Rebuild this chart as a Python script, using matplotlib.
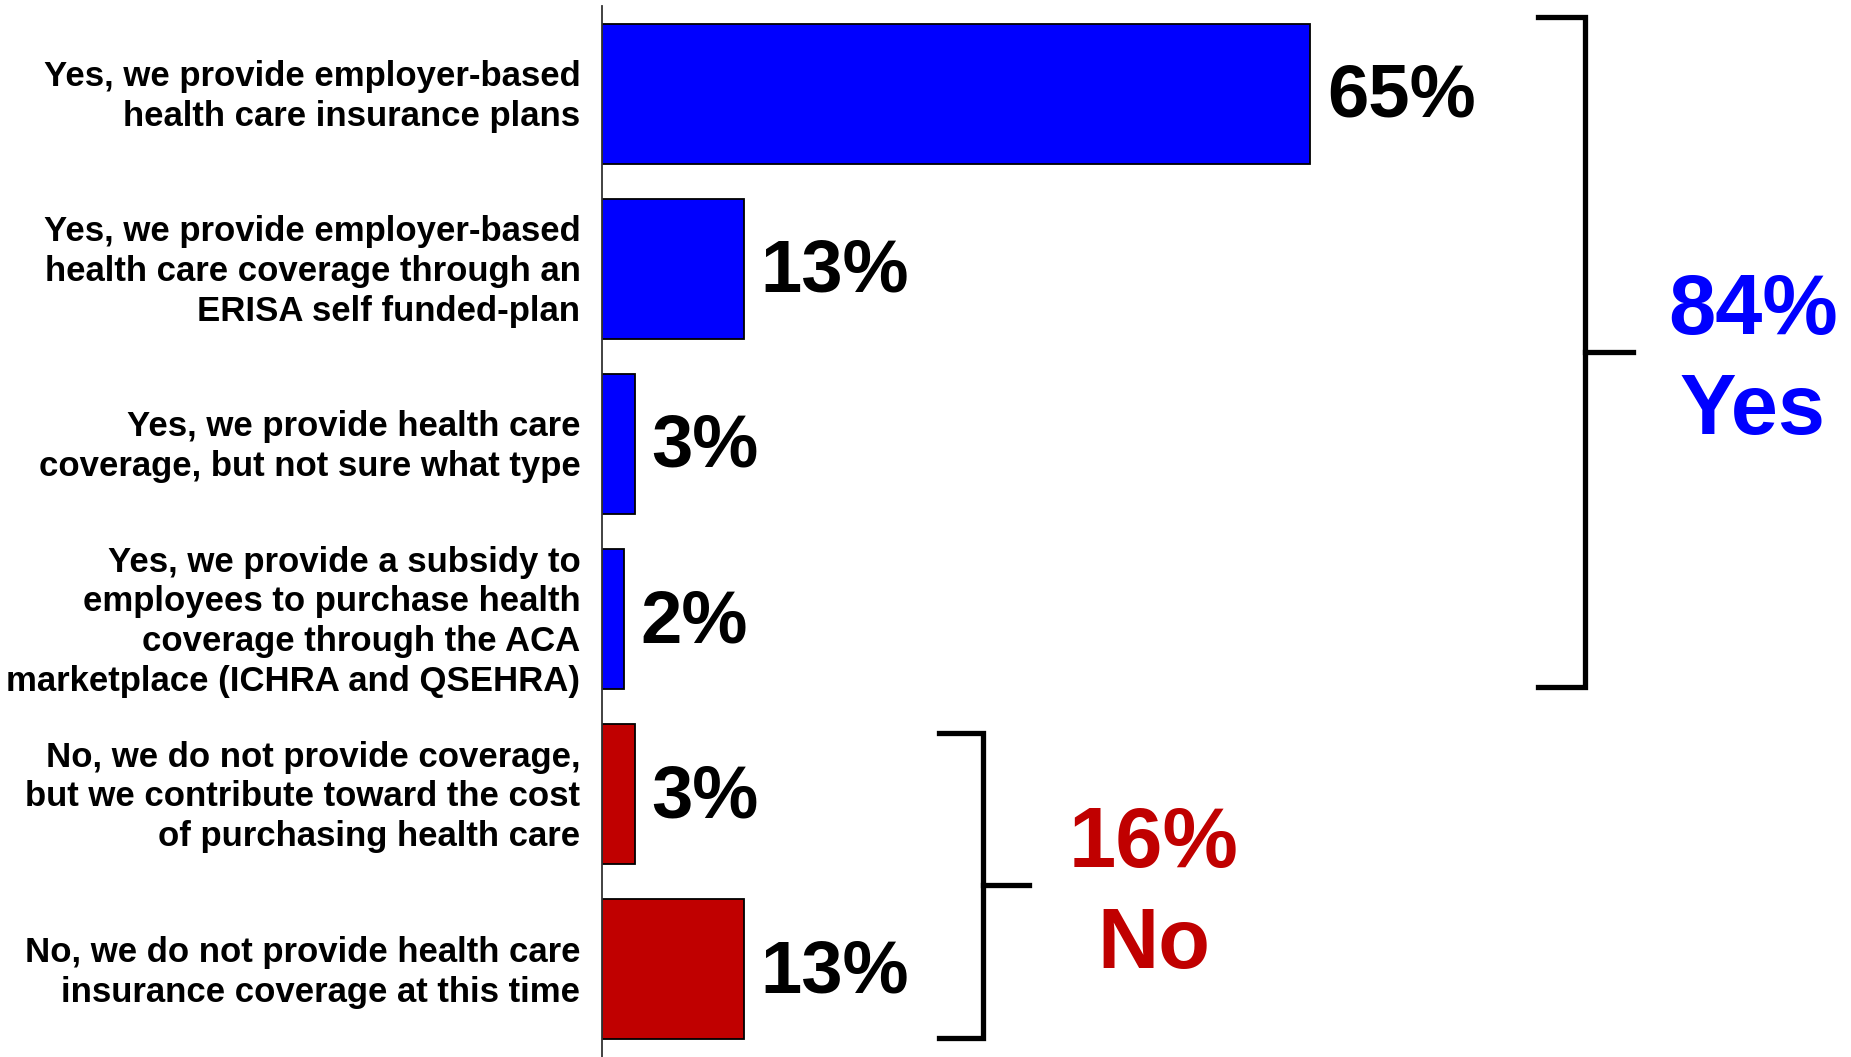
import matplotlib
matplotlib.use("Agg")
import matplotlib.pyplot as plt
import matplotlib.transforms as mtransforms

categories = [
    "Yes, we provide employer-based\nhealth care insurance plans",
    "Yes, we provide employer-based\nhealth care coverage through an\nERISA self funded-plan",
    "Yes, we provide health care\ncoverage, but not sure what type",
    "Yes, we provide a subsidy to\nemployees to purchase health\ncoverage through the ACA\nmarketplace (ICHRA and QSEHRA)",
    "No, we do not provide coverage,\nbut we contribute toward the cost\nof purchasing health care",
    "No, we do not provide health care\ninsurance coverage at this time",
]
values = [65, 13, 3, 2, 3, 13]
groups = ["Yes", "Yes", "Yes", "Yes", "No", "No"]
group_names = ["Yes", "No"]
group_totals = [84, 16]
group_colors = {"Yes": "#0000FF", "No": "#C00000"}

plt.rcParams['font.family'] = ['Liberation Sans', 'DejaVu Sans']

W, H = 1851, 1057
fig = plt.figure(figsize=(W / 100, H / 100), dpi=100)
ax_left = 602 / W
ax_top = 6 / H
ax = fig.add_axes([ax_left, 0, 1 - ax_left, 1 - ax_top])

ypos = list(range(len(categories)))
colors = [group_colors[g] for g in groups]
ax.barh(ypos, values, height=0.8, color=colors, edgecolor="black", linewidth=1.3)
ax.set_ylim(5.5, -0.5)
ax.set_xlim(0, 114.6)

for y, v in zip(ypos, values):
    ax.text(v + 1.5, y + 0.02, f"{v}%", ha="left", va="center",
            fontsize=53.5, fontweight="bold", color="black")

ax.set_yticks(ypos)
ax.set_yticklabels(categories, fontsize=25, fontweight="bold", linespacing=1.26)
ax.tick_params(axis="y", length=0, pad=15.5)
offset = mtransforms.ScaledTranslation(0, 3 / 72, fig.dpi_scale_trans)
for lbl in ax.get_yticklabels():
    lbl.set_transform(lbl.get_transform() + offset)
ax.set_xticks([])
for s in ["top", "right", "bottom"]:
    ax.spines[s].set_visible(False)
ax.spines["left"].set_color("#333333")
ax.spines["left"].set_linewidth(1.3)

# brackets: (x of top/bottom arm start, x of vertical, x of middle tick end)
bracket_x = {"Yes": (85.9, 90.2, 94.6), "No": (30.9, 35.0, 39.2)}
bracket_pad = {"Yes": (0.44, 0.39), "No": (0.35, 0.39)}
label_x = {"Yes": 105.6, "No": 50.6}
lw = 3.8
for g, tot in zip(group_names, group_totals):
    idx = [i for i, gg in enumerate(groups) if gg == g]
    y0 = min(idx) - bracket_pad[g][0]
    y1 = max(idx) + bracket_pad[g][1]
    ym = (y0 + y1) / 2
    xa, xv, xt = bracket_x[g]
    ax.plot([xa, xv, xv, xa], [y0, y0, y1, y1], color="black", lw=lw,
            solid_joinstyle="miter", clip_on=False)
    ax.plot([xv, xt], [ym, ym], color="black", lw=lw, clip_on=False)
    ax.text(label_x[g], ym - 0.23, f"{tot}%", ha="center", va="center",
            fontsize=61, fontweight="bold", color=group_colors[g])
    ax.text(label_x[g], ym + 0.345, g, ha="center", va="center",
            fontsize=61, fontweight="bold", color=group_colors[g])

fig.savefig("out.png", dpi=100)
